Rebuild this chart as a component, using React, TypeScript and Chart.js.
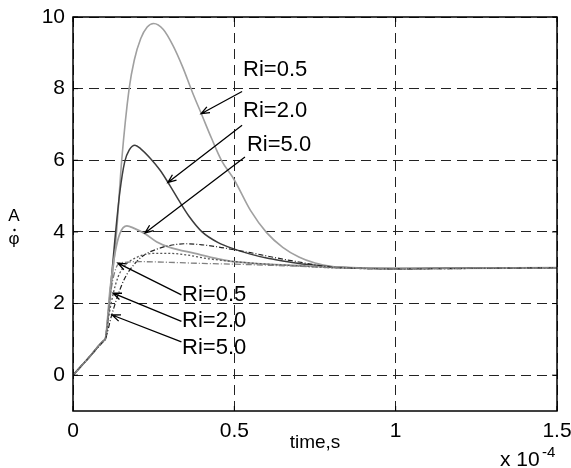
import React, { useEffect, useRef } from "react";
import { Chart, registerables } from "chart.js";

Chart.register(...registerables);

// time axis values are in units of 1e-4 s
const xTicks = [0, 0.5, 1, 1.5];
const yTicks = [0, 2, 4, 6, 8, 10];

// Upper group (solid lines)
const tUp05 = [0, 0.05, 0.099, 0.1, 0.12, 0.135, 0.151, 0.174, 0.19, 0.21, 0.23, 0.25, 0.28, 0.31, 0.34, 0.37, 0.4, 0.43, 0.46, 0.5, 0.55, 0.6, 0.65, 0.7, 0.75, 0.8, 0.85, 0.95, 1.05, 1.15, 1.3, 1.5];
const yUp05 = [0, 0.5, 0.99, 1, 2.6, 4.0, 6.0, 8.0, 8.8, 9.4, 9.72, 9.82, 9.65, 9.2, 8.6, 7.9, 7.25, 6.6, 6.0, 5.45, 4.6, 3.98, 3.57, 3.3, 3.13, 3.04, 3.0, 2.97, 2.97, 2.99, 3.0, 3.0];

const tUp20 = [0, 0.05, 0.099, 0.1, 0.115, 0.13, 0.145, 0.16, 0.175, 0.192, 0.21, 0.24, 0.27, 0.3, 0.33, 0.36, 0.4, 0.45, 0.5, 0.55, 0.6, 0.65, 0.7, 0.75, 0.8, 0.9, 1.0, 1.2, 1.5];
const yUp20 = [0, 0.5, 0.99, 1, 2.3, 3.8, 5.1, 5.95, 6.3, 6.42, 6.32, 6.05, 5.72, 5.3, 4.85, 4.43, 4.0, 3.7, 3.52, 3.38, 3.27, 3.19, 3.12, 3.07, 3.03, 2.99, 2.98, 2.99, 3.0];

const tUp50 = [0, 0.05, 0.099, 0.1, 0.115, 0.13, 0.145, 0.167, 0.19, 0.223, 0.26, 0.3, 0.378, 0.45, 0.5, 0.6, 0.7, 0.8, 0.9, 1.1, 1.5];
const yUp50 = [0, 0.5, 0.99, 1, 2.4, 3.4, 3.95, 4.17, 4.1, 3.95, 3.72, 3.57, 3.4, 3.25, 3.17, 3.1, 3.06, 3.02, 2.99, 2.98, 3.0];

// Lower group (broken lines)
const tLo05 = [0, 0.05, 0.099, 0.1, 0.11, 0.12, 0.13, 0.14, 0.16, 0.2, 0.3, 0.4, 0.5, 0.6, 0.7, 0.8, 0.9, 1.0, 1.2, 1.5];
const yLo05 = [0, 0.5, 0.99, 1, 1.8, 2.5, 2.9, 3.1, 3.15, 3.17, 3.15, 3.12, 3.1, 3.07, 3.04, 3.0, 2.98, 2.97, 2.99, 3.0];

const tLo20 = [0, 0.05, 0.099, 0.1, 0.11, 0.125, 0.14, 0.16, 0.2, 0.25, 0.3, 0.35, 0.42, 0.5, 0.6, 0.7, 0.8, 1.0, 1.5];
const yLo20 = [0, 0.5, 0.99, 1, 1.6, 2.29, 2.75, 3.05, 3.3, 3.4, 3.4, 3.36, 3.25, 3.17, 3.1, 3.05, 3.0, 2.97, 3.0];

const tLo50 = [0, 0.05, 0.099, 0.1, 0.12, 0.14, 0.16, 0.19, 0.22, 0.26, 0.3, 0.35, 0.4, 0.45, 0.5, 0.55, 0.6, 0.65, 0.7, 0.75, 0.8, 0.9, 1.0, 1.5];
const yLo50 = [0, 0.5, 0.99, 1, 1.68, 2.25, 2.7, 3.1, 3.35, 3.52, 3.62, 3.67, 3.64, 3.58, 3.5, 3.42, 3.33, 3.24, 3.16, 3.08, 3.02, 2.98, 2.97, 3.0];

const labelTexts = ["Ri=0.5", "Ri=2.0", "Ri=5.0"];

// annotation anchors in data coordinates: [labelX, labelY, arrowFromX, arrowFromY, arrowToX, arrowToY]
const upperNotes = [
  [0.527, 8.52, 0.524, 7.92, 0.397, 7.3],
  [0.527, 7.38, 0.524, 6.98, 0.294, 5.38],
  [0.539, 6.43, 0.533, 6.09, 0.223, 3.97],
];
const lowerNotes = [
  [0.338, 2.24, 0.336, 2.24, 0.139, 3.13],
  [0.338, 1.51, 0.336, 1.50, 0.124, 2.29],
  [0.338, 0.76, 0.336, 0.93, 0.121, 1.68],
];

const FONT = "'Liberation Sans', Arial, Helvetica, sans-serif";

function pts(t: number[], v: number[]) {
  return t.map((x, i) => ({ x, y: v[i] }));
}

const overlay = {
  id: "overlay",
  afterDatasetsDraw(chart: any) {
    const { ctx, chartArea: a, scales } = chart;
    const xs = scales.x;
    const ys = scales.y;
    ctx.save();
    // frame
    ctx.strokeStyle = "#000";
    ctx.lineWidth = 1.5;
    ctx.setLineDash([]);
    ctx.strokeRect(a.left, a.top, a.right - a.left, a.bottom - a.top);
    // inward tick marks
    ctx.lineWidth = 1;
    ctx.beginPath();
    for (const v of xTicks) {
      const px = xs.getPixelForValue(v);
      ctx.moveTo(px, a.bottom);
      ctx.lineTo(px, a.bottom - 5);
      ctx.moveTo(px, a.top);
      ctx.lineTo(px, a.top + 5);
    }
    for (const v of yTicks) {
      const py = ys.getPixelForValue(v);
      ctx.moveTo(a.left, py);
      ctx.lineTo(a.left + 5, py);
      ctx.moveTo(a.right, py);
      ctx.lineTo(a.right - 5, py);
    }
    ctx.stroke();

    // annotations
    const drawNote = (n: number[], text: string) => {
      const lx = xs.getPixelForValue(n[0]);
      const ly = ys.getPixelForValue(n[1]);
      const fx = xs.getPixelForValue(n[2]);
      const fy = ys.getPixelForValue(n[3]);
      const tx = xs.getPixelForValue(n[4]);
      const ty = ys.getPixelForValue(n[5]);
      ctx.strokeStyle = "#000";
      ctx.lineWidth = 1.3;
      ctx.beginPath();
      ctx.moveTo(fx, fy);
      ctx.lineTo(tx, ty);
      const ang = Math.atan2(fy - ty, fx - tx);
      const hl = 9;
      const ha = 0.38;
      ctx.moveTo(tx + hl * Math.cos(ang + ha), ty + hl * Math.sin(ang + ha));
      ctx.lineTo(tx, ty);
      ctx.lineTo(tx + hl * Math.cos(ang - ha), ty + hl * Math.sin(ang - ha));
      ctx.stroke();
      ctx.fillStyle = "#000";
      ctx.font = `22px ${FONT}`;
      ctx.textAlign = "left";
      ctx.textBaseline = "middle";
      ctx.fillText(text, lx, ly);
    };
    upperNotes.forEach((n, i) => drawNote(n, labelTexts[i]));
    lowerNotes.forEach((n, i) => drawNote(n, labelTexts[i]));

    // axis labels
    ctx.fillStyle = "#000";
    ctx.textAlign = "center";
    ctx.textBaseline = "middle";
    ctx.font = `17px ${FONT}`;
    ctx.fillText("A", 14, 216);
    ctx.fillText("\u03C6", 14, 239);
    ctx.beginPath();
    ctx.arc(14.5, 230, 1.2, 0, Math.PI * 2);
    ctx.fill();
    ctx.font = `19px ${FONT}`;
    ctx.fillText("time,s", (a.left + a.right) / 2, 443);
    ctx.textAlign = "left";
    ctx.textBaseline = "alphabetic";
    ctx.font = `21px ${FONT}`;
    ctx.fillText("x 10", 500, 466);
    ctx.font = `15px ${FONT}`;
    ctx.fillText("-4", 542, 457);
    ctx.restore();
  },
};

export default function App() {
  const ref = useRef<HTMLCanvasElement | null>(null);
  useEffect(() => {
    if (!ref.current) return;
    const common = { pointRadius: 0, fill: false, cubicInterpolationMode: "monotone" as const };
    const chart = new Chart(ref.current, {
      type: "line",
      data: {
        datasets: [
          { ...common, label: "Lo 0.5", data: pts(tLo05, yLo05), borderColor: "#808080", borderWidth: 1.3, borderDash: [6, 2, 1, 2] },
          { ...common, label: "Lo 2.0", data: pts(tLo20, yLo20), borderColor: "#555", borderWidth: 1.3, borderDash: [2, 2] },
          { ...common, label: "Lo 5.0", data: pts(tLo50, yLo50), borderColor: "#222", borderWidth: 1.2, borderDash: [5, 2, 1, 2] },
          { ...common, label: "Up 5.0", data: pts(tUp50, yUp50), borderColor: "#a0a0a0", borderWidth: 1.8 },
          { ...common, label: "Up 2.0", data: pts(tUp20, yUp20), borderColor: "#3c3c3c", borderWidth: 1.5 },
          { ...common, label: "Up 0.5", data: pts(tUp05, yUp05), borderColor: "#a0a0a0", borderWidth: 1.6 },
        ],
      },
      options: {
        animation: false,
        responsive: false,
        maintainAspectRatio: false,
        layout: { padding: { top: 17, right: 14, left: 0, bottom: 0 } },
        plugins: { legend: { display: false }, tooltip: { enabled: false } },
        scales: {
          x: {
            type: "linear",
            min: 0,
            max: 1.5,
            afterBuildTicks: (s: any) => {
              s.ticks = xTicks.map((v) => ({ value: v }));
            },
            afterFit: (s: any) => {
              s.height = 57;
              s.paddingLeft = 0;
              s.paddingRight = 0;
            },
            border: { display: false, dash: [10, 6] },
            grid: { color: "#222", lineWidth: 1, drawTicks: false },
            ticks: {
              padding: 8,
              color: "#000",
              font: { family: FONT, size: 21 },
              maxRotation: 0,
              callback: (v: any) => String(v),
            },
          },
          y: {
            type: "linear",
            min: -1,
            max: 10,
            afterBuildTicks: (s: any) => {
              s.ticks = yTicks.map((v) => ({ value: v }));
            },
            afterFit: (s: any) => {
              s.width = 73;
              s.paddingTop = 0;
              s.paddingBottom = 0;
            },
            border: { display: false, dash: [10, 6] },
            grid: { color: "#222", lineWidth: 1, drawTicks: false },
            ticks: {
              padding: 8,
              color: "#000",
              font: { family: FONT, size: 21 },
              callback: (v: any) => String(v),
            },
          },
        },
      },
      plugins: [overlay],
    });
    return () => chart.destroy();
  }, []);
  return (
    <div style={{ position: "absolute", left: 0, top: 0, width: 571, height: 468, background: "#fff" }}>
      <canvas ref={ref} width={571} height={468} style={{ display: "block" }} />
    </div>
  );
}
